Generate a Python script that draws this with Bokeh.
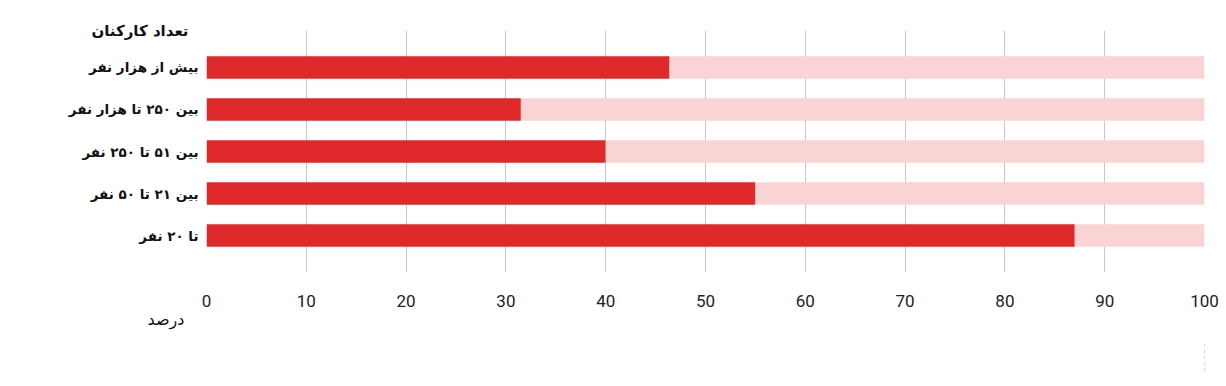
from bokeh.plotting import figure
from bokeh.layouts import column
from bokeh.models import (ColumnDataSource, FactorRange, Range1d, FixedTicker,
                          Legend, LegendItem, Title)
from bokeh.embed import file_html
from bokeh.resources import INLINE

# ---- data (bottom to top) ----
categories = ["تا ۲۰ نفر", "بین ۲۱ تا ۵۰ نفر", "بین ۵۱ تا ۲۵۰ نفر",
              "بین ۲۵۰ تا هزار نفر", "بیش از هزار نفر"]
no_vals = [87.0, 55.0, 40.0, 31.5, 46.4]     # خیر
yes_vals = [13.0, 45.0, 60.0, 68.5, 53.6]    # بله
series_names = ["خیر", "بله"]
x_ticks = [0, 10, 20, 30, 40, 50, 60, 70, 80, 90, 100]
title_text = "تعداد کارکنان"
x_label_text = "درصد"

RED = "#e0292a"
PINK = "#fad4d5"
AR_FONT = "DejaVu Sans"

source = ColumnDataSource(dict(cat=categories, no=no_vals, yes=yes_vals))

p = figure(width=1220, height=342,
           y_range=FactorRange(factors=categories, range_padding=0.152),
           x_range=Range1d(0, 100),
           output_backend="svg", toolbar_location=None,
           min_border_left=206, min_border_right=16,
           min_border_top=30, min_border_bottom=70)

renderers = p.hbar_stack(["no", "yes"], y="cat", height=0.54,
                         color=[RED, PINK], line_color=None, source=source)

p.outline_line_color = None
p.background_fill_color = "white"
p.border_fill_color = "white"

# grid
p.ygrid.grid_line_color = None
p.xgrid.grid_line_color = "#c8c8c8"
p.xgrid.grid_line_width = 1
p.xaxis.ticker = FixedTicker(ticks=x_ticks)

# x axis
xa = p.xaxis[0]
xa.axis_line_color = None
xa.major_tick_line_color = None
xa.minor_tick_line_color = None
xa.major_tick_out = 0
xa.major_label_standoff = 22
xa.major_label_text_font = "Roboto"
xa.major_label_text_font_size = "17px"
xa.major_label_text_color = "#222222"

# y axis (its label carries the category-axis title)
ya = p.yaxis[0]
ya.axis_line_color = None
ya.major_tick_line_color = None
ya.major_tick_out = 0
ya.major_label_standoff = 8
ya.major_label_text_font = AR_FONT
ya.major_label_text_font_style = "bold"
ya.major_label_text_font_size = "13.5px"
ya.major_label_text_color = "#111111"
ya.axis_label = title_text
ya.axis_label_orientation = "horizontal"
ya.axis_label_align = "end"
ya.axis_label_standoff_mode = "axis"
ya.axis_label_standoff = 18
ya.axis_label_text_align = "right"
ya.axis_label_text_font = AR_FONT
ya.axis_label_text_font_style = "bold"
ya.axis_label_text_font_size = "15px"
ya.axis_label_text_color = "#111111"

# unit label for the value axis, left of the "0" tick
p.add_layout(Title(text=x_label_text, align="left", text_align="left",
                   vertical_align="top", offset=-59, standoff=0,
                   text_font=AR_FONT, text_font_style="normal",
                   text_font_size="16px", text_color="#111111"), "below")

# ---- legend strip: a second figure whose frame holds the legend ----
p2 = figure(width=1220, height=30,
            y_range=FactorRange(factors=categories),
            x_range=Range1d(-10, -5),          # keeps the proxy bars out of view
            output_backend="svg", toolbar_location=None,
            x_axis_location=None, y_axis_location=None,
            min_border_left=0, min_border_right=0,
            min_border_top=0, min_border_bottom=0)
p2.outline_line_color = None
p2.grid.visible = False
p2.background_fill_color = "white"
p2.border_fill_color = "white"
proxy = p2.hbar_stack(["no", "yes"], y="cat", height=0.54,
                      color=[RED, PINK], line_color=None, source=source)

legend = Legend(items=[LegendItem(label=series_names[0], renderers=[proxy[0]]),
                       LegendItem(label=series_names[1], renderers=[proxy[1]])],
                orientation="horizontal", location=(1043, 10),
                margin=0, padding=0, spacing=31, label_standoff=8,
                glyph_width=19, glyph_height=19,
                label_text_font=AR_FONT, label_text_font_style="bold",
                label_text_font_size="14px", label_text_color="#111111",
                border_line_color=None, background_fill_alpha=0)
p2.add_layout(legend)

layout = column(p, p2, spacing=0)
open("out.html", "w").write(file_html(layout, INLINE))
